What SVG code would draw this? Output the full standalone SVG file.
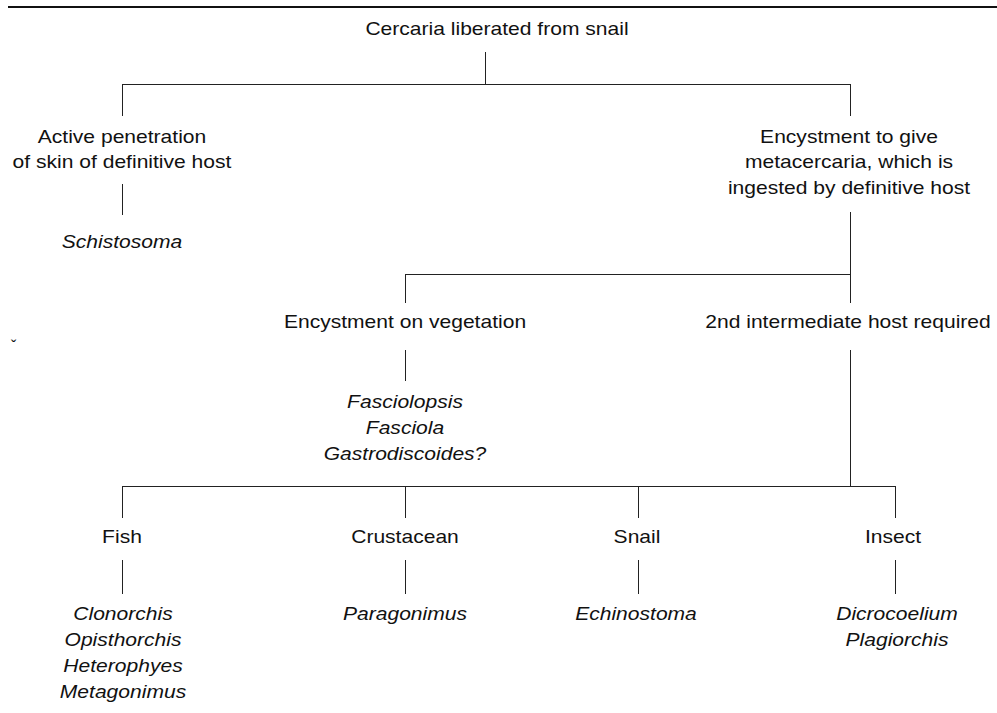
<svg xmlns="http://www.w3.org/2000/svg" width="997" height="713" viewBox="0 0 997 713">
<style>
.t{font-family:"Liberation Sans",Arial,Helvetica,sans-serif;font-size:18px;text-anchor:middle;fill:#111}
.i{font-style:italic}
.c line{stroke:#222;stroke-width:1;fill:none}
</style>
<rect width="997" height="713" fill="#fff"/>
<line x1="8" y1="7" x2="997" y2="7" stroke="#111" stroke-width="2"/>
<text x="11" y="352" font-family="Liberation Sans,sans-serif" font-size="16" fill="#111">ˇ</text>
<g class="c" id="connectors">
<line x1="485.5" y1="52" x2="485.5" y2="84"/>
<line x1="122" y1="84.5" x2="851" y2="84.5"/>
<line x1="122.5" y1="84" x2="122.5" y2="116"/>
<line x1="850.5" y1="84" x2="850.5" y2="116"/>
<line x1="122.5" y1="184" x2="122.5" y2="215"/>
<line x1="850.5" y1="212" x2="850.5" y2="303"/>
<line x1="405" y1="274.5" x2="851" y2="274.5"/>
<line x1="405.5" y1="274" x2="405.5" y2="303"/>
<line x1="405.5" y1="350" x2="405.5" y2="381"/>
<line x1="850.5" y1="350" x2="850.5" y2="487"/>
<line x1="122" y1="486.5" x2="896" y2="486.5"/>
<line x1="122.5" y1="486" x2="122.5" y2="518"/>
<line x1="405.5" y1="486" x2="405.5" y2="518"/>
<line x1="638.5" y1="486" x2="638.5" y2="518"/>
<line x1="895.5" y1="486" x2="895.5" y2="518"/>
<line x1="122.5" y1="560" x2="122.5" y2="594"/>
<line x1="405.5" y1="560" x2="405.5" y2="594"/>
<line x1="638.5" y1="560" x2="638.5" y2="594"/>
<line x1="895.5" y1="560" x2="895.5" y2="594"/>
</g>
<g id="n-cercaria" transform="translate(497 0) scale(1.17 1)"><text class="t" x="0" y="35">Cercaria liberated from snail</text></g>
<g id="n-active" transform="translate(122 0) scale(1.17 1)"><text class="t" x="0" y="143">Active penetration</text><text class="t" x="0" y="168">of skin of definitive host</text></g>
<g id="n-schistosoma" transform="translate(122 0) scale(1.17 1)"><text class="t i" x="0" y="248">Schistosoma</text></g>
<g id="n-encyst" transform="translate(849 0) scale(1.17 1)"><text class="t" x="0" y="143">Encystment to give</text><text class="t" x="0" y="168">metacercaria, which is</text><text class="t" x="0" y="194">ingested by definitive host</text></g>
<g id="n-vegetation" transform="translate(405 0) scale(1.17 1)"><text class="t" x="0" y="328">Encystment on vegetation</text></g>
<g id="n-second" transform="translate(848 0) scale(1.17 1)"><text class="t" x="0" y="328">2nd intermediate host required</text></g>
<g id="n-fasciola" transform="translate(405 0) scale(1.17 1)"><text class="t i" x="0" y="408">Fasciolopsis</text><text class="t i" x="0" y="434">Fasciola</text><text class="t i" x="0" y="460">Gastrodiscoides?</text></g>
<g id="n-fish" transform="translate(122 0) scale(1.17 1)"><text class="t" x="0" y="543">Fish</text></g>
<g id="n-crustacean" transform="translate(405 0) scale(1.17 1)"><text class="t" x="0" y="543">Crustacean</text></g>
<g id="n-snail" transform="translate(637 0) scale(1.17 1)"><text class="t" x="0" y="543">Snail</text></g>
<g id="n-insect" transform="translate(893 0) scale(1.17 1)"><text class="t" x="0" y="543">Insect</text></g>
<g id="n-fish-sp" transform="translate(123 0) scale(1.17 1)"><text class="t i" x="0" y="620">Clonorchis</text><text class="t i" x="0" y="646">Opisthorchis</text><text class="t i" x="0" y="672">Heterophyes</text><text class="t i" x="0" y="698">Metagonimus</text></g>
<g id="n-crust-sp" transform="translate(405 0) scale(1.17 1)"><text class="t i" x="0" y="620">Paragonimus</text></g>
<g id="n-snail-sp" transform="translate(636 0) scale(1.17 1)"><text class="t i" x="0" y="620">Echinostoma</text></g>
<g id="n-insect-sp" transform="translate(897 0) scale(1.17 1)"><text class="t i" x="0" y="620">Dicrocoelium</text><text class="t i" x="0" y="646">Plagiorchis</text></g>
</svg>
